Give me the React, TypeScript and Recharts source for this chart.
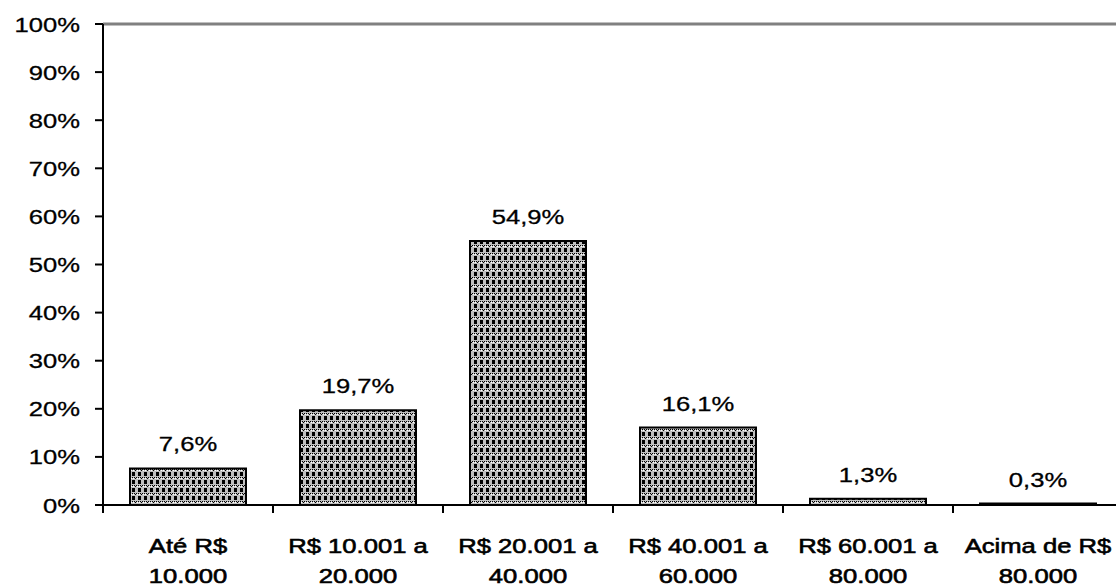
import React from 'react';
import { BarChart, Bar, XAxis, YAxis, LabelList, ReferenceLine } from 'recharts';

const categories = [
  ['Até R$', '10.000'],
  ['R$ 10.001 a', '20.000'],
  ['R$ 20.001 a', '40.000'],
  ['R$ 40.001 a', '60.000'],
  ['R$ 60.001 a', '80.000'],
  ['Acima de R$', '80.000'],
];
const values = [7.6, 19.7, 54.9, 16.1, 1.3, 0.3];
const yTicks = [0, 10, 20, 30, 40, 50, 60, 70, 80, 90, 100];

const data = categories.map((c, i) => ({ name: c.join(' '), value: values[i] }));

const SX = 1.22;
const FONT = 'Arial, "Liberation Sans", sans-serif';

const YTick = (props: any) => {
  const { x, y, payload } = props;
  return (
    <g transform={`translate(${x},${y}) scale(${SX},1)`}>
      <text x={0} y={0} dy="0.36em" textAnchor="end" fontSize={21} fontFamily={FONT} fill="#000" stroke="#000" strokeWidth={0.3}>
        {`${payload.value}%`}
      </text>
    </g>
  );
};

const XTick = (props: any) => {
  const { x, y, index, width, visibleTicksCount, payload } = props;
  const c = categories[index] || ['', ''];
  let band = 0;
  if (width && visibleTicksCount) band = width / visibleTicksCount;
  else if (payload && payload.offset) band = payload.offset * 2;
  const left = x - band / 2;
  const right = x + band / 2;
  const isLast = index === categories.length - 1;
  return (
    <g>
      <line x1={left} y1={y} x2={left} y2={y + 8} stroke="#000" strokeWidth={2} />
      {isLast && <line x1={right} y1={y} x2={right} y2={y + 8} stroke="#000" strokeWidth={2} />}
      <g transform={`translate(${x},${y}) scale(${SX},1)`}>
        <text x={0} y={48} textAnchor="middle" fontSize={21} fontFamily={FONT} fill="#000" stroke="#000" strokeWidth={0.6}>
          {c[0]}
        </text>
        <text x={0} y={78} textAnchor="middle" fontSize={21} fontFamily={FONT} fill="#000" stroke="#000" strokeWidth={0.6}>
          {c[1]}
        </text>
      </g>
    </g>
  );
};

const ValueLabel = (props: any) => {
  const { x, y, width, value } = props;
  const cx = x + width / 2;
  return (
    <g transform={`translate(${cx},${y - 17}) scale(${SX},1)`}>
      <text x={0} y={0} textAnchor="middle" fontSize={21} fontFamily={FONT} fill="#000" stroke="#000" strokeWidth={0.3}>
        {`${String(value).replace('.', ',')}%`}
      </text>
    </g>
  );
};

export default function App() {
  return (
    <div style={{ position: 'absolute', left: 0, top: 0, width: 1116, height: 587, overflow: 'hidden', background: '#fff' }}>
      <BarChart
        width={1123}
        height={587}
        data={data}
        margin={{ top: 24, right: 0, bottom: 0, left: 0 }}
        barCategoryGap={0}
      >
        <defs>
          <pattern id="chk" x="0" y="0" width="6" height="8" patternUnits="userSpaceOnUse">
            <rect x="0" y="0" width="6" height="8" fill="#c0c0c0" />
            <rect x="0" y="0" width="3" height="4" fill="#000" />
            <rect x="0" y="5" width="1" height="1" fill="#000" />
            <rect x="2" y="5" width="1" height="1" fill="#000" />
            <rect x="4" y="5" width="1" height="1" fill="#000" />
            <rect x="1" y="6" width="1" height="1" fill="#fff" />
            <rect x="3" y="6" width="1" height="1" fill="#000" />
            <rect x="5" y="6" width="1" height="1" fill="#fff" />
          </pattern>
        </defs>
        <XAxis
          dataKey="name"
          type="category"
          height={82}
          interval={0}
          tickLine={false}
          tickSize={0}
          tickMargin={0}
          axisLine={{ stroke: '#000', strokeWidth: 2 }}
          tick={<XTick />}
        />
        <YAxis
          type="number"
          domain={[0, 100]}
          ticks={yTicks}
          width={103}
          tickSize={8}
          tickMargin={15}
          interval={0}
          axisLine={{ stroke: '#000', strokeWidth: 2 }}
          tickLine={{ stroke: '#000', strokeWidth: 2 }}
          tick={<YTick />}
        />
        <ReferenceLine y={100} stroke="#808080" strokeWidth={3} />
        <Bar
          dataKey="value"
          barSize={116}
          fill="url(#chk)"
          stroke="#000"
          strokeWidth={2}
          isAnimationActive={false}
        >
          <LabelList dataKey="value" content={<ValueLabel />} />
        </Bar>
      </BarChart>
    </div>
  );
}
